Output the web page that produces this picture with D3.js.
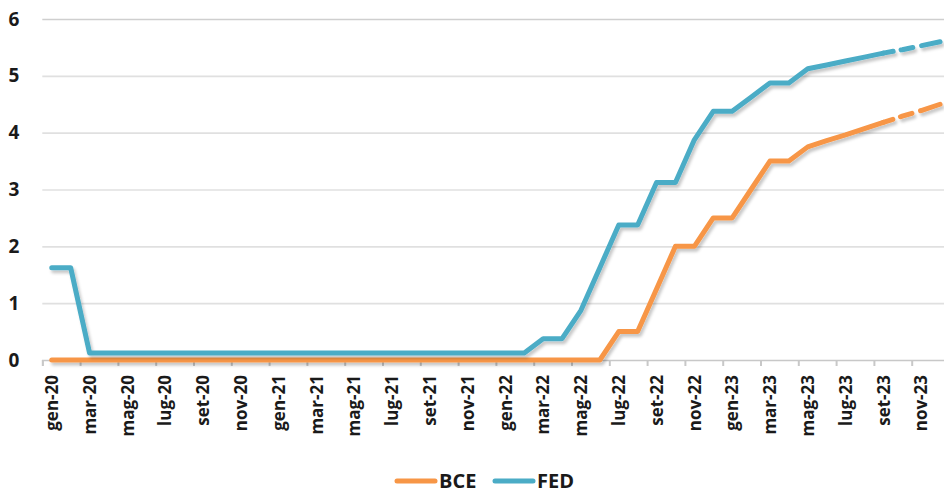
<!DOCTYPE html>
<html>
<head>
<meta charset="utf-8">
<script src="https://cdn.jsdelivr.net/npm/d3@7"></script>
<style>
  body { margin: 0; background: #fff; }
  svg { display: block; }
  svg text { font-family: "Open Sans", "DejaVu Sans", sans-serif; font-weight: 700; fill: #1a1a1a; }
</style>
</head>
<body>
<svg id="chart" width="944" height="495"></svg>
<script>
"use strict";
// month labels (gen-20 .. dic-23)
var months = ["gen-20","feb-20","mar-20","apr-20","mag-20","giu-20","lug-20","ago-20","set-20","ott-20","nov-20","dic-20",
  "gen-21","feb-21","mar-21","apr-21","mag-21","giu-21","lug-21","ago-21","set-21","ott-21","nov-21","dic-21",
  "gen-22","feb-22","mar-22","apr-22","mag-22","giu-22","lug-22","ago-22","set-22","ott-22","nov-22","dic-22",
  "gen-23","feb-23","mar-23","apr-23","mag-23","giu-23","lug-23","ago-23","set-23","ott-23","nov-23","dic-23"];

var bce = [0,0,0,0,0,0,0,0,0,0,0,0,
  0,0,0,0,0,0,0,0,0,0,0,0,
  0,0,0,0,0,0,0.5,0.5,1.25,2.0,2.0,2.5,
  2.5,3.0,3.5,3.5,3.75,3.86,3.96,4.07,4.18,4.29,4.39,4.5];

var fed = [1.625,1.625,0.125,0.125,0.125,0.125,0.125,0.125,0.125,0.125,0.125,0.125,
  0.125,0.125,0.125,0.125,0.125,0.125,0.125,0.125,0.125,0.125,0.125,0.125,
  0.125,0.125,0.375,0.375,0.875,1.625,2.375,2.375,3.125,3.125,3.875,4.375,
  4.375,4.625,4.875,4.875,5.125,5.19,5.26,5.33,5.40,5.46,5.53,5.60];

var forecastFrom = 44; // set-23: from here the lines are dashed
var yTicks = [0,1,2,3,4,5,6];

var series = [
  {name: "BCE", color: "#F79646", values: bce},
  {name: "FED", color: "#4BACC6", values: fed}
];

var plotLeft = 42.3, plotRight = 949.5, plotTop = 19, plotBottom = 360;
var svg = d3.select("#chart");

var defs = svg.append("defs");
var f = defs.append("filter").attr("id", "shadow")
  .attr("x", "-5%").attr("y", "-5%").attr("width", "110%").attr("height", "120%");
f.append("feDropShadow").attr("dx", 2).attr("dy", 3).attr("stdDeviation", 1.5)
  .attr("flood-color", "#000").attr("flood-opacity", 0.22);

var x = d3.scaleBand().domain(months).range([plotLeft, plotRight]).paddingInner(0).paddingOuter(0);
var xi = d3.scaleLinear().domain([0, months.length]).range([plotLeft, plotRight]);
var y = d3.scaleLinear().domain([0, 6]).range([plotBottom, plotTop]);

// y axis with gridlines
var yAxis = svg.append("g")
  .attr("transform", "translate(" + plotLeft + ",0)")
  .call(d3.axisLeft(y).tickValues(yTicks).tickSize(-(plotRight - plotLeft)).tickPadding(23).tickFormat(d3.format("d")));
yAxis.select(".domain").remove();
yAxis.selectAll("line")
  .attr("stroke", function(d){ return d == 6 ? "#CFCFCF" : "#E0E0E0"; })
  .attr("stroke-width", 1.6)
  .attr("display", function(d){ return d == 0 ? "none" : null; });
yAxis.selectAll("text").style("font-size", "19px");

// x axis tick marks (between categories)
var xTicksAxis = svg.append("g")
  .attr("transform", "translate(0," + plotBottom + ")")
  .call(d3.axisBottom(xi).tickValues(d3.range(0, months.length, 2)).tickSize(6).tickFormat(""));
xTicksAxis.select(".domain").attr("stroke", "#C8C8C8").attr("stroke-width", 1.6);
xTicksAxis.selectAll("line").attr("stroke", "#C8C8C8").attr("stroke-width", 2);

// x axis labels
var xAxis = svg.append("g")
  .attr("transform", "translate(0," + plotBottom + ")")
  .call(d3.axisBottom(x).tickValues(months.filter(function(d, i){ return i % 2 == 0; })).tickSize(0));
xAxis.select(".domain").remove();
xAxis.selectAll("text")
  .attr("transform", "rotate(-90)")
  .attr("x", -15).attr("y", 0).attr("dy", "0.37em")
  .style("text-anchor", "end")
  .style("font-size", "17px");

// lines
var line = d3.line()
  .x(function(d){ return x(months[d.i]) + x.bandwidth() / 2; })
  .y(function(d){ return y(d.v); });

series.forEach(function(s){
  var pts = s.values.map(function(v, i){ return {i: i, v: v}; });
  var g = svg.append("g").attr("filter", "url(#shadow)");
  g.append("path")
    .datum(pts.slice(0, forecastFrom + 1))
    .attr("d", line)
    .attr("fill", "none").attr("stroke", s.color).attr("stroke-width", 5)
    .attr("stroke-linejoin", "round").attr("stroke-linecap", "round");
  g.append("path")
    .datum(pts.slice(forecastFrom))
    .attr("d", line)
    .attr("fill", "none").attr("stroke", s.color).attr("stroke-width", 5)
    .attr("stroke-dasharray", "10,8,12,9,40")
    .attr("stroke-linecap", "round");
});

// legend
var legend = svg.append("g").attr("transform", "translate(395,481)");
var lg = legend.selectAll("g").data(series).enter().append("g")
  .attr("transform", function(d, i){ return "translate(" + i * 98 + ",0)"; });
lg.append("line").attr("x1", 2).attr("x2", 40).attr("y1", 0).attr("y2", 0)
  .attr("stroke", function(d){ return d.color; }).attr("stroke-width", 5).attr("stroke-linecap", "round");
lg.append("text").attr("x", 44).attr("y", 0).attr("dy", "0.35em")
  .style("font-size", "20px")
  .text(function(d){ return d.name; });
</script>
</body>
</html>
